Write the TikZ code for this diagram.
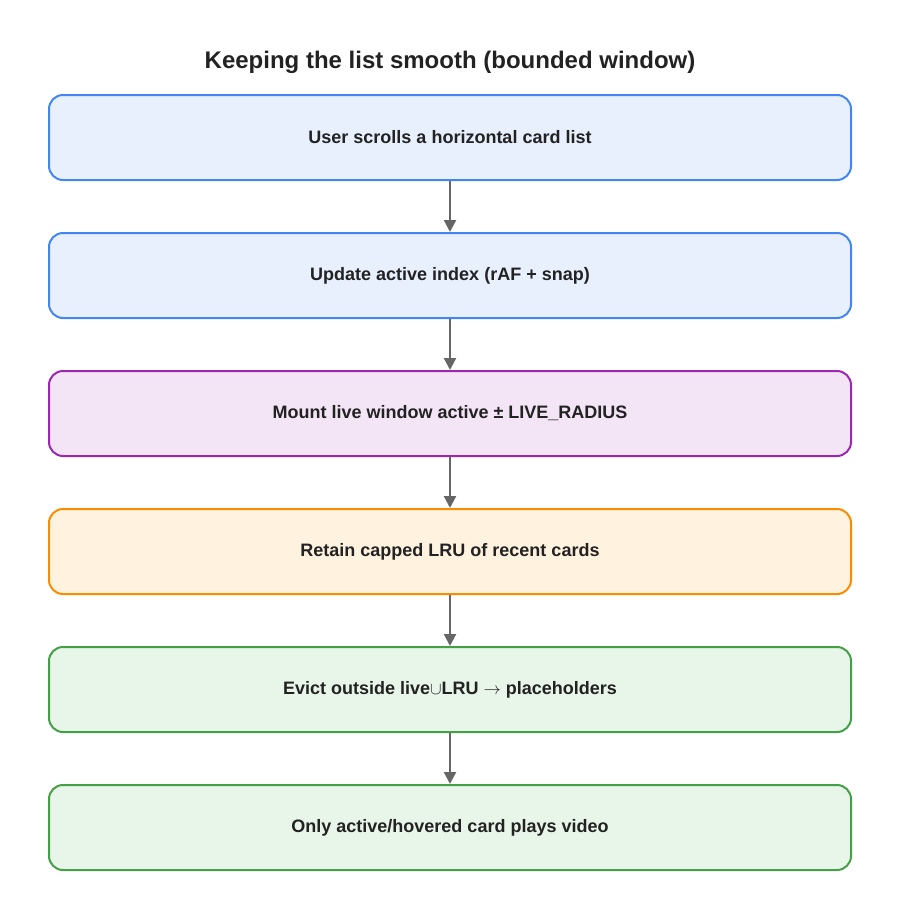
\documentclass[tikz,border=0pt]{standalone}
\usepackage{fontspec}
\setmainfont{Liberation Sans}
\usetikzlibrary{arrows.meta}
\definecolor{bb}{HTML}{4285F4}\definecolor{bf}{HTML}{E8F0FE}
\definecolor{pb}{HTML}{9C27B0}\definecolor{pf}{HTML}{F3E5F5}
\definecolor{ob}{HTML}{FB8C00}\definecolor{of}{HTML}{FFF3E0}
\definecolor{gb}{HTML}{43A047}\definecolor{gf}{HTML}{E8F5E9}
\definecolor{ar}{HTML}{666666}\definecolor{tx}{HTML}{222222}
\begin{document}
\begin{tikzpicture}[x=1pt,y=-1pt,
 box/.style={draw=#1b,fill=#1f,line width=2pt,rounded corners=14pt,minimum width=802pt,minimum height=85pt,inner sep=0pt,font=\bfseries\fontsize{18}{21}\selectfont,text=tx},
 arr/.style={draw=ar,line width=2.2pt,-{Triangle[length=12pt,width=12pt]}}]
\useasboundingbox (0,0) rectangle (900,918);
\node[font=\bfseries\fontsize{24}{28}\selectfont,text=tx] (t) at (450,62) {Keeping the list smooth (bounded window)};
\node[box=b] (a) at (450,137.5) {User scrolls a horizontal card list};
\node[box=b] (b) at (450,275.5) {Update active index (rAF + snap)};
\node[box=p] (c) at (450,413.5) {Mount live window active ± LIVE\_RADIUS};
\node[box=o] (d) at (450,551.5) {Retain capped LRU of recent cards};
\node[box=g] (e) at (450,689.5) {Evict outside live$\cup$LRU $\rightarrow$ placeholders};
\node[box=g] (f) at (450,827.5) {Only active/hovered card plays video};
\draw[arr] (a) -- (b);
\draw[arr] (b) -- (c);
\draw[arr] (c) -- (d);
\draw[arr] (d) -- (e);
\draw[arr] (e) -- (f);
\end{tikzpicture}
\end{document}
